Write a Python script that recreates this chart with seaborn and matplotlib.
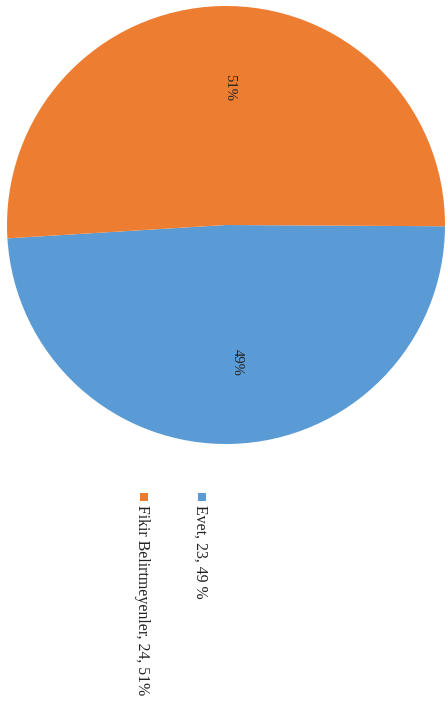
import matplotlib
matplotlib.use("Agg")
import matplotlib.pyplot as plt
import matplotlib.transforms as mtransforms
from matplotlib.patches import Rectangle
import seaborn as sns

# Survey answers: label, count
categories = ["Evet", "Fikir Belirtmeyenler"]
counts = [23, 24]
legend_labels = ["Evet, 23, 49 %", "Fikir Belirtmeyenler, 24, 51%"]
colors = ["#5B9BD5", "#ED7D31"]

sns.set_theme(style="white")
plt.rcParams["font.family"] = ["Liberation Serif", "DejaVu Serif"]

W, H = 447, 705
fig = plt.figure(figsize=(W / 100, H / 100), dpi=100)
fig.patch.set_facecolor("white")

# Pie occupies the upper part of the page
cx, cy, r = 226, 225, 219
ax = fig.add_axes([(cx - r) / W, (H - cy - r) / H, 2 * r / W, 2 * r / H])
wedges, texts, autotexts = ax.pie(
    counts,
    colors=colors,
    startangle=-176.5,
    counterclock=True,
    radius=1.0,
    autopct=lambda p: f"{p:.0f}%",
    pctdistance=0.63,
    wedgeprops=dict(linewidth=0),
    textprops=dict(fontsize=10.5, color="#222222"),
)
# percentage labels sit a little to the right of the slice bisector
shift = mtransforms.offset_copy(ax.transData, fig=fig, x=7, y=0, units="dots")
for t in autotexts:
    t.set_transform(shift)
    t.set_rotation(-90)
    t.set_rotation_mode("anchor")
    t.set_ha("center")
    t.set_va("center")
ax.set_xlim(-1, 1)
ax.set_ylim(-1, 1)
ax.set_aspect("equal")
ax.axis("off")

# Legend drawn as vertical (rotated) entries below the pie
legend_x = [196, 138]  # text baselines in pixels
for (bx, lab, col) in zip(legend_x, legend_labels, colors):
    fig.patches.append(Rectangle(((bx + 1.5) / W, (H - 501) / H), 8 / W, 8 / H,
                                 transform=fig.transFigure, facecolor=col,
                                 edgecolor="none"))
    fig.text(bx / W, (H - 505) / H, lab, rotation=-90, rotation_mode="anchor",
             ha="left", va="baseline", fontsize=11.4, color="#222222")

fig.savefig("out.png", dpi=100, facecolor="white")
